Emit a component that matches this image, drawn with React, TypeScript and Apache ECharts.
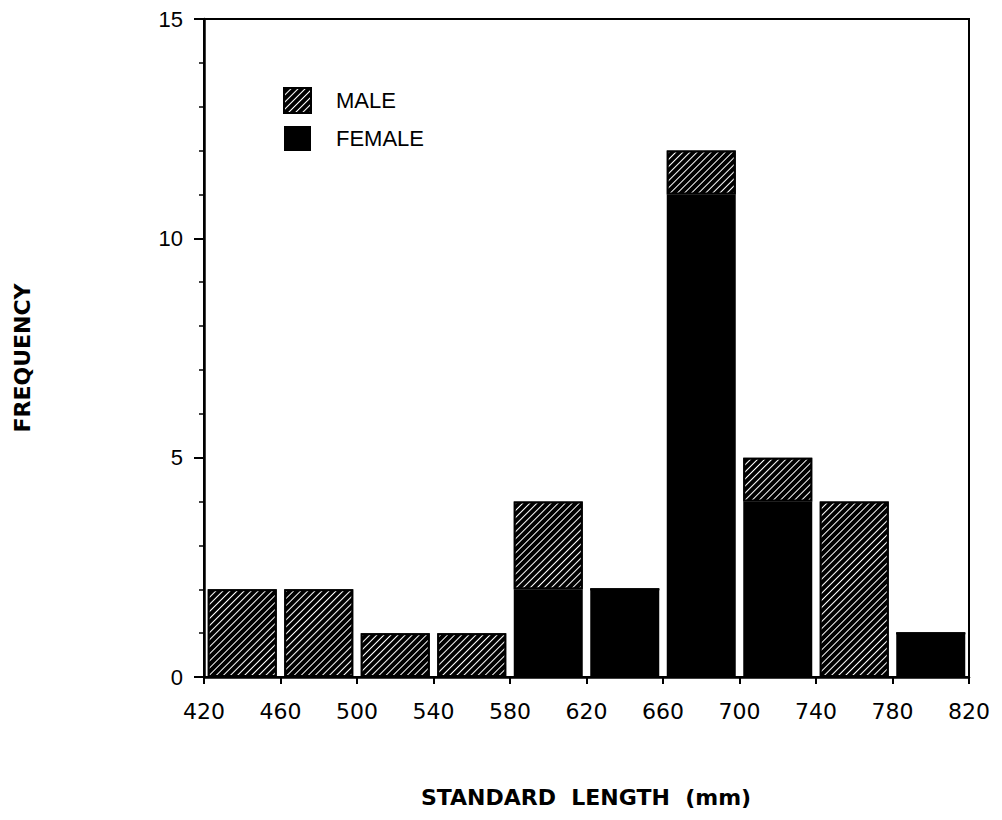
import React, { useEffect, useRef } from "react";
import * as echarts from "echarts";

// Histogram bins (lower edge, mm), bin width 40
const binStarts = [420, 460, 500, 540, 580, 620, 660, 700, 740, 780];
const binWidth = 40;
const femaleCounts = [0, 0, 0, 0, 2, 2, 11, 4, 0, 1];
const maleCounts = [2, 2, 1, 1, 2, 0, 1, 1, 4, 0];
const xMin = 420;
const xMax = 820;
const yMax = 15;

export default function App() {
  const ref = useRef<HTMLDivElement>(null);
  useEffect(() => {
    if (!ref.current) return;
    const chart = echarts.init(ref.current, undefined, { renderer: "svg" });
    const hatch = {
      symbol: "rect",
      symbolSize: 1,
      color: "#ffffff",
      backgroundColor: "#000000",
      dashArrayX: [1, 0],
      dashArrayY: [1, 4],
      rotation: -Math.PI / 4,
    };
    chart.setOption({
      animation: false,
      backgroundColor: "#ffffff",
      grid: {
        left: 204,
        right: 33,
        top: 19,
        bottom: 143,
        show: true,
        borderColor: "#000",
        borderWidth: 2,
        backgroundColor: "transparent",
      },
      legend: {
        left: 278,
        top: 82,
        orient: "vertical",
        itemWidth: 27,
        itemHeight: 25,
        itemGap: 12,
        icon: "rect",
        textStyle: {
          fontFamily: "Liberation Sans",
          fontSize: 22,
          color: "#000",
          padding: [0, 0, 0, 20],
        },
        data: ["MALE", "FEMALE"],
      },
      xAxis: [
        {
          type: "category",
          data: binStarts.map(String),
          boundaryGap: true,
          show: false,
          position: "bottom",
        },
        {
          type: "value",
          position: "bottom",
          min: 0,
          max: xMax - xMin,
          interval: binWidth,
          splitLine: { show: false },
          axisLine: { show: true, lineStyle: { color: "#000", width: 2.5 } },
          axisTick: { show: true, inside: false, length: 7, lineStyle: { color: "#000", width: 2 } },
          axisLabel: {
            margin: 23,
            fontFamily: "DejaVu Sans",
            fontSize: 22,
            color: "#000",
            formatter: (v: number) => String(v + xMin),
          },
        },
      ],
      yAxis: {
        type: "value",
        min: 0,
        max: yMax,
        interval: 5,
        splitLine: { show: false },
        axisLine: { show: true, lineStyle: { color: "#000", width: 2.5 } },
        axisTick: { show: true, inside: false, length: 10, lineStyle: { color: "#000", width: 2 } },
        minorTick: { show: true, splitNumber: 5, length: 5, lineStyle: { color: "#000", width: 1.5 } },
        axisLabel: {
          margin: 21,
          fontFamily: "Liberation Sans",
          fontSize: 22,
          color: "#000",
        },
      },
      series: [
        {
          name: "FEMALE",
          type: "bar",
          xAxisIndex: 0,
          stack: "total",
          barWidth: 69,
          itemStyle: { color: "#000" },
          data: femaleCounts,
        },
        {
          name: "MALE",
          type: "bar",
          xAxisIndex: 0,
          stack: "total",
          barWidth: 69,
          itemStyle: { color: "#000", borderColor: "#000", borderWidth: 2, decal: hatch },
          data: maleCounts,
        },
      ],
      graphic: [
        {
          type: "text",
          x: 22,
          y: 358,
          rotation: Math.PI / 2,
          style: {
            text: "FREQUENCY",
            fontFamily: "DejaVu Sans",
            fontWeight: "bold",
            fontSize: 22,
            fill: "#000",
            align: "center",
            verticalAlign: "middle",
          },
        },
        {
          type: "text",
          x: 586,
          y: 797,
          style: {
            text: "STANDARD  LENGTH  (mm)",
            fontFamily: "DejaVu Sans",
            fontWeight: "bold",
            fontSize: 22,
            fill: "#000",
            align: "center",
            verticalAlign: "middle",
          },
        },
      ],
    });
    return () => chart.dispose();
  }, []);
  return (
    <div
      ref={ref}
      style={{ position: "absolute", left: 0, top: 0, width: 1002, height: 820 }}
    />
  );
}
